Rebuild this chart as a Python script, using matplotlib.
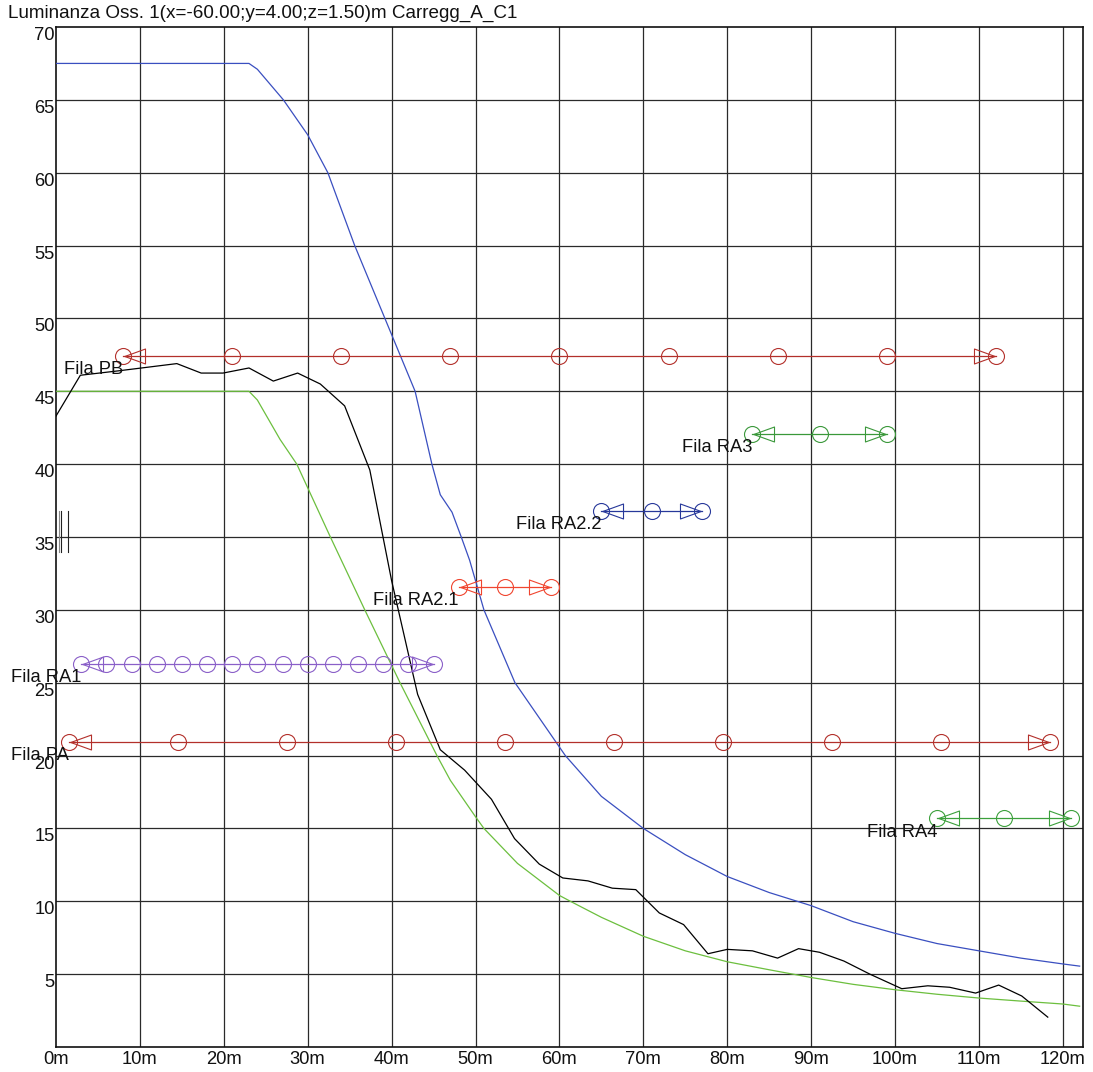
import matplotlib
matplotlib.use("Agg")
import matplotlib.pyplot as plt
import numpy as np

plt.rcParams['font.family'] = ['Liberation Sans', 'DejaVu Sans']

title = "Luminanza Oss. 1(x=-60.00;y=4.00;z=1.50)m Carregg_A_C1"

x_ticks = [0, 10, 20, 30, 40, 50, 60, 70, 80, 90, 100, 110, 120]
x_tick_labels = ["0m", "10m", "20m", "30m", "40m", "50m", "60m", "70m", "80m", "90m", "100m", "110m", "120m"]
y_ticks = [5, 10, 15, 20, 25, 30, 35, 40, 45, 50, 55, 60, 65, 70]
y_tick_labels = ["5", "10", "15", "20", "25", "30", "35", "40", "45", "50", "55", "60", "65", "70"]

# blue curve
x_blue = [0, 23, 24, 27.1, 30, 32.4, 35.6, 39.2, 42.8, 44.8, 45.8, 47.2, 48.3, 49.3, 51.0, 54.7,
          60.7, 65, 70, 75, 80, 85, 90, 95, 100, 105, 110, 115, 120, 122]
y_blue = [67.5, 67.5, 67.1, 65, 62.6, 60, 55, 50, 45, 40, 37.9, 36.7, 35, 33.4, 30, 25,
          20, 17.2, 15, 13.2, 11.7, 10.6, 9.7, 8.6, 7.8, 7.1, 6.6, 6.1, 5.7, 5.55]

# green curve
x_green = [0, 23, 24, 26.7, 28.7, 32.7, 36.8, 41, 45.4, 47, 50, 51, 55, 60, 61.3, 65, 70,
           75, 80, 85, 90, 95, 100, 105, 110, 115, 120, 122]
y_green = [45, 45, 44.4, 41.7, 40, 35, 30, 25, 20, 18.3, 15.8, 15, 12.6, 10.4, 10, 8.9, 7.6,
           6.6, 5.85, 5.3, 4.77, 4.3, 3.93, 3.62, 3.36, 3.15, 2.95, 2.8]

# black curve
x_black = [0, 2.9, 7.4, 14.4, 17.3, 19.9, 23.0, 25.9, 28.8, 31.5, 34.4, 37.4, 40, 43.1, 45.8,
           48.7, 51.9, 54.65, 57.6, 60.4, 63.4, 66.3, 69.1, 71.9, 74.8, 77.7, 80, 83, 86, 88.5,
           91, 93.9, 97, 100.8, 103.9, 106.5, 109.6, 112.35, 115.1, 118.2]
y_black = [43.3, 46.1, 46.4, 46.9, 46.25, 46.25, 46.6, 45.7, 46.25, 45.5, 44.0, 39.6, 32, 24.2, 20.4,
           19.0, 17.0, 14.3, 12.55, 11.6, 11.4, 10.9, 10.8, 9.2, 8.4, 6.4, 6.7, 6.6, 6.1, 6.75,
           6.5, 5.9, 5.0, 4.0, 4.2, 4.1, 3.7, 4.25, 3.5, 2.05]

# luminaire rows
row_names = ["Fila PB", "Fila RA3", "Fila RA2.2", "Fila RA2.1", "Fila RA1", "Fila PA", "Fila RA4"]
row_levels = [47.45, 42.1, 36.8, 31.6, 26.3, 20.95, 15.7]
row_positions = [
    [8, 21, 34, 47, 60, 73, 86, 99, 112],
    [83, 91, 99],
    [65, 71, 77],
    [48, 53.5, 59],
    [3, 6, 9, 12, 15, 18, 21, 24, 27, 30, 33, 36, 39, 42, 45],
    [1.5, 14.5, 27.5, 40.5, 53.5, 66.5, 79.5, 92.5, 105.5, 118.5],
    [105, 113, 121],
]
row_colors = ["#b3302b", "#3a983a", "#27389a", "#f0452f", "#8a5fc8", "#b3302b", "#3ca03c"]

# observer mark
obs_x = [0.3, 0.55, 1.4]
obs_y0 = 33.95
obs_y1 = 36.8

W, H = 1093, 1072
fig = plt.figure(figsize=(W / 100, H / 100), dpi=100)
ax = fig.add_axes([56 / W, 1 - 1047 / H, (1083 - 56) / W, (1047 - 27) / H])
ax.set_xlim(0, 122.4)
ax.set_ylim(0, 70)

for xv in x_ticks[1:]:
    ax.axvline(xv, color="#2a2a2a", lw=0.9, zorder=1)
for yv in y_ticks[:-1]:
    ax.axhline(yv, color="#2a2a2a", lw=0.9, zorder=1)

ax.plot(x_blue, y_blue, color="#3a4fc0", lw=0.9, zorder=3)
ax.plot(x_green, y_green, color="#6cbf3e", lw=0.9, zorder=3)
ax.plot(x_black, y_black, color="black", lw=0.9, zorder=3)

left_tri = [(0.06, 0), (1, 0.34), (1, -0.34), (0.06, 0)]
right_tri = [(-0.06, 0), (-1, 0.34), (-1, -0.34), (-0.06, 0)]
tri_ms = 31.7
for name, lvl, pos, col in zip(row_names, row_levels, row_positions, row_colors):
    ys = [lvl] * len(pos)
    ax.plot(pos, ys, color=col, lw=0.9, marker="o", ms=11.5, mfc="none", mec=col, mew=0.8, zorder=4)
    ax.plot([pos[0]], [lvl], marker=left_tri, ms=tri_ms, mfc="none", mec=col, mew=0.8, ls="none", zorder=4)
    ax.plot([pos[-1]], [lvl], marker=right_tri, ms=tri_ms, mfc="none", mec=col, mew=0.8, ls="none", zorder=4)
    ax.annotate(name, (pos[0], lvl), xytext=(0, -10), textcoords="offset points",
                ha="right", va="center", fontsize=13.2, color="#111111", annotation_clip=False, zorder=5)

for ox in obs_x:
    ax.plot([ox, ox], [obs_y0, obs_y1], color="#222222" if ox != 0.3 else "#888888", lw=0.8, zorder=4)

ax.set_xticks(x_ticks)
ax.set_xticklabels(x_tick_labels, fontsize=13.2)
ax.set_yticks(y_ticks)
ax.set_yticklabels(y_tick_labels, fontsize=13.2)
ax.tick_params(axis="both", length=0, colors="#111111")
ax.tick_params(axis="x", pad=3)
ax.tick_params(axis="y", pad=1)
for lab in ax.get_yticklabels():
    lab.set_va("top")
for s in ax.spines.values():
    s.set_color("#111111")
    s.set_linewidth(1.2)

fig.text(8 / W, 1 - 13 / H, title, ha="left", va="center", fontsize=13.6, color="#111111")

fig.savefig("out.png", dpi=100)
